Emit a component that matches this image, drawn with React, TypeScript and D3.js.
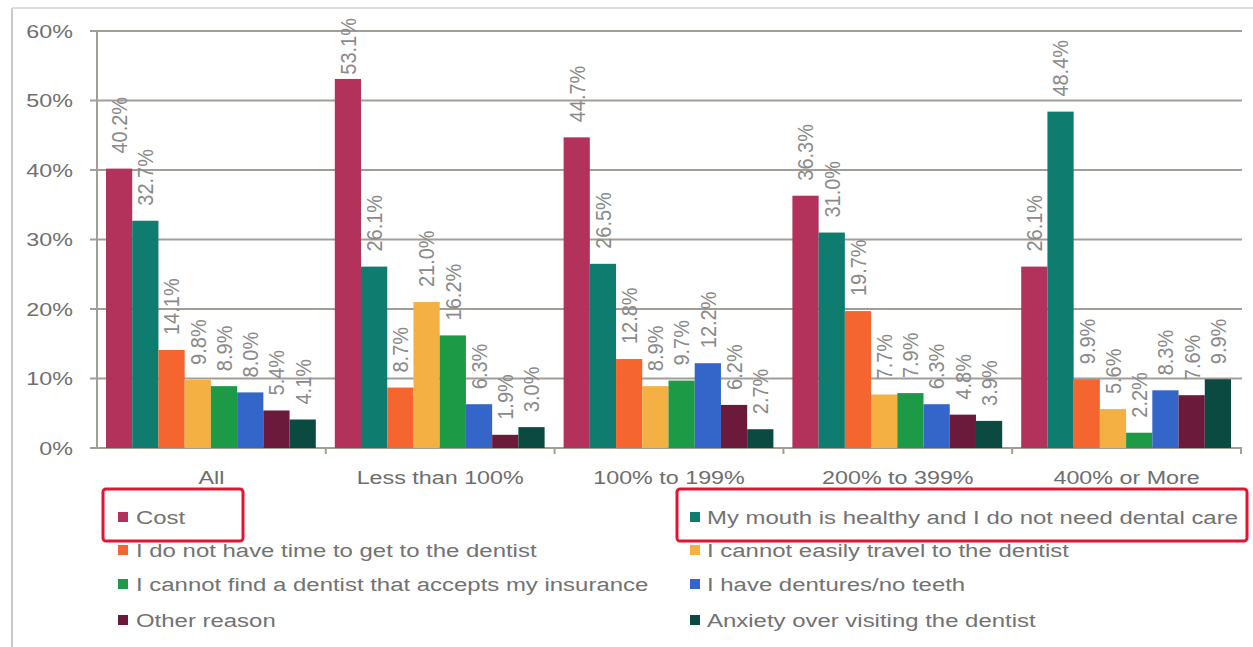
import React from "react";
import * as d3 from "d3";

const categories = ["All", "Less than 100%", "100% to 199%", "200% to 399%", "400% or More"];
const seriesNames = [
  "Cost",
  "My mouth is healthy and I do not need dental care",
  "I do not have time to get to the dentist",
  "I cannot easily travel to the dentist",
  "I cannot find a dentist that accepts my insurance",
  "I have dentures/no teeth",
  "Other reason",
  "Anxiety over visiting the dentist",
];
const cost = [40.2, 53.1, 44.7, 36.3, 26.1];
const mouthHealthy = [32.7, 26.1, 26.5, 31.0, 48.4];
const noTime = [14.1, 8.7, 12.8, 19.7, 9.9];
const cannotTravel = [9.8, 21.0, 8.9, 7.7, 5.6];
const insurance = [8.9, 16.2, 9.7, 7.9, 2.2];
const dentures = [8.0, 6.3, 12.2, 6.3, 8.3];
const otherReason = [5.4, 1.9, 6.2, 4.8, 7.6];
const anxiety = [4.1, 3.0, 2.7, 3.9, 9.9];
const seriesValues = [cost, mouthHealthy, noTime, cannotTravel, insurance, dentures, otherReason, anxiety];
const colors = ["#b2325c", "#0e7c6f", "#f5652f", "#f4b042", "#1d9a45", "#3366c8", "#6b1a3c", "#0a4a40"];
const yTicks = [0, 10, 20, 30, 40, 50, 60];
const highlighted = [0, 1];

const W = 1253;
const H = 647;
const SX = 1.26;
const FONT = "'Liberation Sans', Arial, sans-serif";
const LABEL_FS = 20;

export default function App() {
  const x0 = d3.scaleBand<string>().domain(categories).range([97, 1241]).padding(0);
  const x1 = d3
    .scaleBand<number>()
    .domain(d3.range(seriesNames.length))
    .range([9, x0.bandwidth() - 10])
    .padding(0);
  const y = d3.scaleLinear().domain([0, 60]).range([448, 31]);

  const legendRows = [517, 550, 584, 620];
  const legendCols = [{ sq: 118, tx: 136 }, { sq: 690, tx: 707 }];

  return (
    <svg
      width={W}
      height={H}
      style={{ position: "absolute", left: 0, top: 0, display: "block", background: "#fff" }}
      fontFamily={FONT}
    >
      {/* outer frame */}
      <line x1={12} y1={8} x2={12} y2={H} stroke="#c9c9c9" strokeWidth={2} />
      <line x1={12} y1={8} x2={W} y2={8} stroke="#dedede" strokeWidth={2} />

      {/* gridlines */}
      {yTicks.map((t) => (
        <g key={t}>
          <line x1={90} x2={1242} y1={y(t)} y2={y(t)} stroke="#a39d97" strokeWidth={2} />
          <text
            transform={`translate(73,${y(t)}) scale(${SX},1)`}
            textAnchor="end"
            dominantBaseline="central"
            fontSize={18.5}
            fill="#707070"
          >
            {t}%
          </text>
        </g>
      ))}
      {/* y axis */}
      <line x1={97} x2={97} y1={y(60)} y2={y(0)} stroke="#a39d97" strokeWidth={2} />
      {/* category ticks */}
      {categories.map((c) => (
        <line
          key={"t" + c}
          x1={(x0(c) as number) + x0.bandwidth()}
          x2={(x0(c) as number) + x0.bandwidth()}
          y1={y(0)}
          y2={y(0) + 6}
          stroke="#a39d97"
          strokeWidth={2}
        />
      ))}

      {/* bars */}
      {categories.map((c, ci) => (
        <g key={c} transform={`translate(${x0(c)},0)`}>
          {seriesValues.map((vals, si) => {
            const v = vals[ci];
            const bx = x1(si) as number;
            return (
              <rect
                key={si}
                x={bx}
                y={y(v)}
                width={x1.bandwidth()}
                height={y(0) - y(v)}
                fill={colors[si]}
              />
            );
          })}
          {seriesValues.map((vals, si) => {
            const v = vals[ci];
            const cx = (x1(si) as number) + x1.bandwidth() / 2;
            const len = 2.835 * LABEL_FS;
            const start = Math.max(y(v) - 15, 18 + len);
            const ly = Math.min(y(v) - 4, start);
            return (
              <text
                key={"l" + si}
                transform={`translate(${cx},${ly}) scale(1.1,1) rotate(-90)`}
                textAnchor="start"
                dominantBaseline="central"
                fontSize={LABEL_FS}
                fill="#8a8a8a"
              >
                {v.toFixed(1)}%
              </text>
            );
          })}
          <text
            transform={`translate(${x0.bandwidth() / 2},${477}) scale(${SX},1)`}
            textAnchor="middle"
            dominantBaseline="central"
            fontSize={18.5}
            fill="#6e6e6e"
          >
            {c}
          </text>
        </g>
      ))}

      {/* legend */}
      {seriesNames.map((name, i) => {
        const col = legendCols[i % 2];
        const ry = legendRows[Math.floor(i / 2)];
        return (
          <g key={name}>
            <rect x={col.sq} y={ry - 5} width={10} height={10} fill={colors[i]} />
            <text
              transform={`translate(${col.tx},${ry}) scale(${SX},1)`}
              dominantBaseline="central"
              fontSize={19}
              fill="#727272"
            >
              {name}
            </text>
          </g>
        );
      })}

      {/* highlight boxes */}
      {highlighted.map((i) =>
        i === 0 ? (
          <rect key={i} x={103} y={489} width={140} height={52} rx={3} fill="none" stroke="#e3142f" strokeWidth={3} />
        ) : (
          <rect key={i} x={677} y={489} width={570} height={52} rx={3} fill="none" stroke="#e3142f" strokeWidth={3} />
        )
      )}
    </svg>
  );
}
